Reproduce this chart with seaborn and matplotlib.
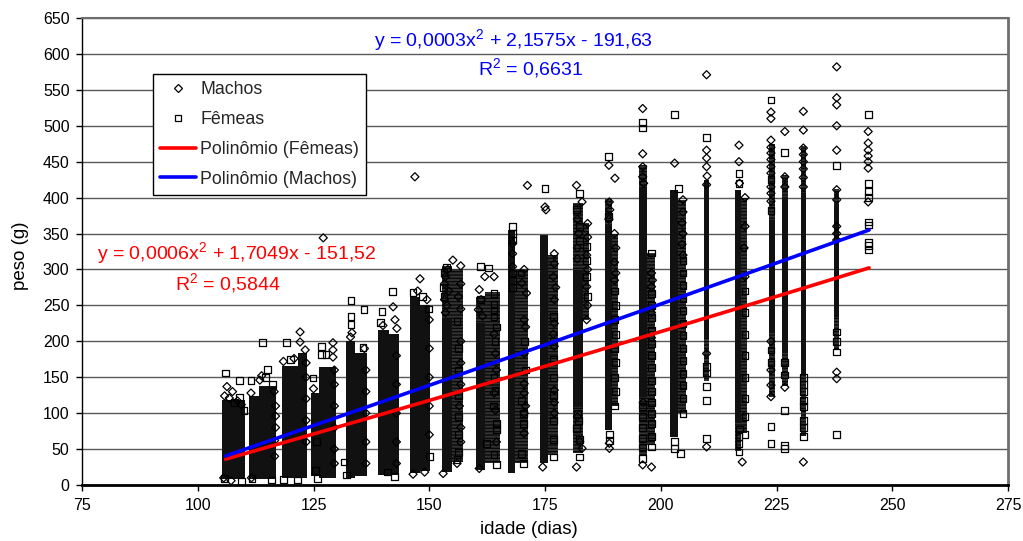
import numpy as np
import pandas as pd
import matplotlib
matplotlib.use("Agg")
import matplotlib.pyplot as plt
import seaborn as sns
from matplotlib.lines import Line2D

# Dense weighing clouds of each sampling week: day span and weight span (g)
nucleo_idade_ini = [105.3, 111.0, 113.2, 118.3, 121.7, 124.5, 126.1, 132.0, 133.9, 139.0,
                    141.2, 145.8, 148.1, 152.8, 160.2, 167.1, 173.9, 181.0, 188.0, 195.2,
                    202.0, 209.4, 216.0, 223.3, 226.1, 230.2, 237.4]
nucleo_idade_fim = [110.1, 113.2, 117.0, 121.7, 123.5, 126.1, 129.8, 133.9, 136.5, 141.2,
                    143.5, 148.1, 150.1, 155.0, 162.0, 168.6, 175.7, 183.2, 189.4, 197.0,
                    203.8, 210.4, 217.4, 224.6, 227.4, 231.4, 238.6]
nucleo_peso_min = [8, 8, 8, 10, 10, 12, 10, 10, 12, 14, 14, 17, 20, 18, 21, 17, 30, 109, 76,
                   123, 67, 205, 86, 212, 184, 155, 234]
nucleo_peso_max = [118, 124, 138, 166, 184, 128, 164, 200, 184, 216, 210, 262, 250, 232, 225,
                   355, 348, 299, 360, 415, 410, 425, 410, 369, 401, 406, 388]

# Looser stacks of weighings next to the dense clouds: day span and weight span (g)
pilha_idade_ini = [152.8, 155.0, 160.2, 162.0, 168.6, 175.7, 181.0, 181.0, 183.2, 189.4,
                   188.0, 197.0, 195.2, 195.2, 203.8, 209.4, 217.4, 216.0, 223.3, 223.3,
                   226.1, 226.1, 230.2, 230.2, 237.4, 237.4]
pilha_idade_fim = [155.0, 157.3, 162.0, 165.2, 171.3, 177.8, 183.2, 183.2, 184.6, 190.8,
                   189.4, 198.8, 197.0, 197.0, 205.5, 210.4, 218.6, 217.4, 224.6, 224.6,
                   227.4, 227.4, 231.4, 231.4, 238.6, 238.6]
pilha_peso_min = [232, 32, 225, 30, 30, 42, 299, 45, 230, 110, 360, 55, 415, 40, 100, 145, 72,
                  48, 369, 122, 401, 138, 406, 68, 388, 188]
pilha_peso_max = [305, 300, 262, 268, 300, 320, 392, 109, 364, 350, 398, 323, 445, 123, 397,
                  205, 400, 86, 475, 212, 432, 184, 472, 155, 412, 234]

# Individual weighings around the dense clouds: (idade em dias, peso em g)
machos = [
    (105.8, 124), (106.3, 137), (107.5, 130), (106.8, 121), (108.6, 117), (109.4, 112), (105.6, 10), (107.2, 6),
    (113.4, 146), (111.5, 128), (116.5, 130), (116.8, 110), (116.8, 96), (116.8, 80), (111.6, 10), (116.6, 62),
    (116.6, 40), (113.8, 152),
    (122.1, 213), (122.1, 199), (123.2, 188), (123.4, 170), (123.4, 150), (123.4, 120), (123.4, 90), (123.4, 60),
    (118.5, 172), (120.8, 176),
    (127.1, 344), (129.2, 198), (129.2, 188), (129.2, 178), (129.5, 160), (129.5, 140), (129.5, 110), (129.5, 80),
    (129.5, 50), (129.5, 30), (125.0, 134),
    (133.0, 206), (133.3, 212), (136.0, 190), (136.3, 160), (136.3, 130), (136.3, 100), (136.3, 60), (136.3, 30),
    (142.2, 248), (142.6, 230), (140.0, 222), (143.0, 218), (142.9, 180), (142.9, 140), (142.9, 100), (142.9, 60),
    (142.9, 30),
    (146.9, 429), (148.0, 287), (147.5, 270), (149.5, 258), (150.0, 230), (150.0, 190), (150.0, 150), (150.0, 110),
    (150.0, 70), (146.5, 15), (149.0, 18),
    (155.1, 313), (154.0, 300), (153.5, 290), (153.3, 280), (154.2, 270), (153.3, 258), (153.8, 250), (153.5, 240),
    (156.8, 305), (156.8, 280), (156.3, 262), (156.8, 245), (156.8, 200), (156.8, 170), (156.8, 140), (156.5, 110),
    (156.8, 80), (156.8, 60), (153.0, 16), (156.0, 30),
    (160.8, 272), (161.2, 258), (160.6, 244), (162.0, 290), (164.0, 290), (161.5, 235), (164.3, 183), (164.5, 160),
    (164.0, 128), (164.3, 104), (164.0, 210), (164.5, 60), (160.8, 23),
    (168.0, 336), (168.0, 322), (168.0, 304), (171.2, 417), (170.0, 281), (171.0, 267), (170.5, 230), (170.8, 220),
    (170.5, 183), (170.5, 141), (170.5, 128), (170.8, 110), (170.5, 100), (170.5, 72), (170.5, 300),
    (175.0, 387), (175.2, 383), (177.0, 322), (177.0, 308), (176.8, 290), (177.3, 275), (177.0, 258), (177.0, 225),
    (176.8, 210), (177.0, 193), (177.0, 132), (177.0, 115), (177.0, 100), (174.5, 25),
    (181.8, 417), (183.0, 394), (182.0, 370), (182.3, 350), (182.0, 330), (182.0, 315), (183.0, 51), (181.8, 25),
    (182.5, 60), (182.0, 95), (184.2, 364), (184.2, 345), (184.0, 320), (184.2, 300), (184.0, 276), (184.2, 250),
    (184.0, 230),
    (188.8, 445), (190.1, 427), (188.9, 394), (189.0, 383), (188.8, 370), (188.9, 58), (188.9, 51), (190.0, 350),
    (190.3, 330), (190.0, 310), (190.3, 295), (190.0, 285),
    (196.1, 524), (196.1, 461), (196.1, 443), (196.1, 429), (196.3, 420), (196.1, 28), (198.0, 25), (196.2, 115),
    (198.0, 295), (198.2, 285), (198.0, 276), (198.0, 240), (198.0, 205),
    (203.0, 448), (204.8, 397), (204.8, 380), (204.6, 365), (204.8, 350), (204.6, 335), (204.8, 320),
    (209.9, 571), (209.9, 466), (209.9, 455), (209.9, 443), (209.9, 183), (209.9, 53), (210.0, 430), (209.9, 418),
    (216.9, 473), (216.9, 450), (217.0, 420), (217.6, 32), (218.2, 400), (218.2, 360), (218.0, 330), (218.2, 290),
    (223.8, 519), (223.8, 510), (223.8, 480), (223.8, 470), (223.8, 462), (223.8, 453), (223.8, 443), (223.8, 434),
    (223.8, 415), (223.8, 406), (223.8, 395), (223.8, 200), (223.8, 160), (223.8, 139), (223.8, 123), (226.8, 492),
    (226.8, 429), (226.8, 415), (226.8, 136),
    (230.8, 520), (230.8, 494), (230.8, 469), (230.8, 460), (230.8, 450), (230.8, 440), (230.8, 428), (230.8, 415),
    (230.8, 32),
    (238.0, 582), (238.0, 539), (238.0, 529), (238.0, 500), (238.0, 466), (238.0, 411), (238.0, 397), (238.0, 157),
    (238.0, 148), (238.0, 360), (238.0, 350), (238.0, 341),
    (244.8, 492), (244.8, 476), (244.8, 466), (244.8, 458), (244.8, 450), (244.8, 441), (244.8, 394),
]

femeas = [
    (106.0, 156), (109.0, 146), (109.0, 122), (105.8, 9), (109.5, 5), (108.0, 115), (110.0, 104),
    (113.9, 198), (111.5, 146), (115.0, 161), (116.0, 7), (111.7, 9), (114.6, 150), (116.2, 140),
    (119.1, 198), (120.0, 175), (118.5, 8), (121.5, 7),
    (126.8, 193), (126.8, 182), (127.7, 182), (124.9, 149), (125.8, 9), (125.4, 20), (125.6, 60),
    (133.1, 257), (133.1, 235), (133.1, 223), (135.9, 244), (135.7, 191), (131.6, 32), (132.2, 14),
    (142.0, 269), (139.8, 242), (139.5, 226), (141.0, 18), (142.5, 12),
    (146.5, 268), (149.8, 245), (148.6, 262), (150.0, 40),
    (153.8, 303), (153.2, 296), (153.0, 275), (153.2, 262), (156.0, 228), (156.3, 190), (156.3, 160), (156.3, 125),
    (156.3, 95), (156.3, 70), (156.3, 45), (156.0, 35),
    (161.0, 304), (162.8, 302), (161.0, 258), (164.0, 267), (164.0, 251), (164.0, 243), (164.0, 235), (164.2, 132),
    (164.5, 86), (164.5, 77), (164.0, 42), (164.5, 28), (163.8, 110), (164.0, 150), (164.2, 200), (164.5, 220),
    (162.4, 58),
    (168.0, 360), (168.0, 350), (168.0, 341), (168.0, 295), (168.0, 285), (168.0, 275), (169.8, 295), (170.0, 118),
    (170.3, 100), (170.3, 86), (170.0, 44), (170.3, 30), (170.8, 160), (170.5, 200),
    (175.0, 413), (176.8, 235), (176.8, 200), (176.8, 175), (176.8, 150), (176.8, 125), (176.8, 90), (176.8, 63),
    (176.8, 39),
    (182.5, 406), (181.8, 383), (182.5, 360), (182.5, 340), (181.8, 79), (182.5, 63), (182.5, 39), (182.0, 100),
    (182.2, 90), (184.0, 332), (184.0, 313), (184.0, 290), (184.2, 262),
    (188.8, 457), (188.8, 374), (188.9, 62), (188.9, 70), (190.0, 270), (190.3, 250), (190.0, 230), (190.2, 210),
    (190.0, 190), (190.3, 170), (190.0, 150), (190.2, 130), (190.0, 110),
    (196.0, 505), (196.0, 497), (196.0, 109), (196.0, 95), (196.0, 80), (196.0, 65), (196.0, 53), (196.0, 37),
    (198.0, 86), (198.0, 323), (198.0, 267), (198.0, 250), (198.0, 233), (198.0, 215), (198.0, 197), (198.0, 180),
    (198.0, 163), (198.0, 146), (198.0, 130), (198.0, 115), (198.0, 100), (198.0, 67), (198.0, 53),
    (203.0, 516), (203.8, 413), (203.0, 51), (204.2, 44), (203.0, 60), (204.8, 313), (204.8, 295), (204.8, 278),
    (204.8, 260), (204.8, 243), (204.8, 225), (204.8, 208), (204.8, 190), (204.8, 173), (204.8, 155), (204.8, 138),
    (204.8, 120), (204.8, 100),
    (209.9, 484), (209.9, 165), (209.9, 156), (209.9, 137), (209.9, 118), (209.9, 65),
    (216.9, 434), (216.9, 420), (216.9, 67), (216.9, 58), (216.9, 46), (217.0, 78), (218.2, 270), (218.2, 240),
    (218.2, 210), (218.2, 180), (218.2, 150), (218.2, 120), (218.2, 95), (218.2, 70),
    (223.8, 536), (223.8, 425), (223.8, 382), (223.8, 81), (223.8, 58), (223.8, 188), (223.8, 170), (226.8, 463),
    (226.8, 171), (226.8, 153), (226.8, 104), (226.8, 55), (226.8, 51),
    (230.8, 150), (230.8, 140), (230.8, 130), (230.8, 118), (230.8, 109), (230.8, 90), (230.8, 80), (230.8, 67),
    (238.0, 445), (238.0, 213), (238.0, 200), (238.0, 185), (238.0, 70),
    (244.8, 516), (244.8, 420), (244.8, 408), (244.8, 400), (244.8, 366), (244.8, 362), (244.8, 338), (244.8, 333),
    (244.8, 327),
]

# Second-order trend lines: a*x^2 + b*x + c, with their R^2
coef_femeas = [0.0006, 1.7049, -151.52]
coef_machos = [0.0003, 2.1575, -191.63]
r2_femeas = "0,5844"
r2_machos = "0,6631"
idade_tendencia = list(range(106, 246))

x_ticks = list(range(75, 276, 25))
y_ticks = list(range(0, 651, 50))

# ---------------------------------------------------------------------------
sns.set_theme(style="white")
plt.rcParams["font.family"] = ["Liberation Sans", "DejaVu Sans"]
plt.rcParams["mathtext.fontset"] = "custom"
plt.rcParams["mathtext.rm"] = "Liberation Sans"
plt.rcParams["mathtext.it"] = "Liberation Sans"
plt.rcParams["hatch.linewidth"] = 1.0

fig = plt.figure(figsize=(10.23, 5.41), dpi=100)
ax = fig.add_axes([82 / 1023, 1 - 485 / 541, 926 / 1023, 467 / 541])
ax.set_xlim(75, 275)
ax.set_ylim(0, 650)

# horizontal gridlines
ax.set_axisbelow(True)
ax.yaxis.grid(True, color="#5a5a5a", linewidth=1.0)
ax.xaxis.grid(False)

# looser stacks of overlapping markers (textured), then dense clouds (solid)
larg_p = np.array(pilha_idade_fim) - np.array(pilha_idade_ini)
alt_p = np.array(pilha_peso_max) - np.array(pilha_peso_min)
ax.bar(pilha_idade_ini, alt_p, width=larg_p, bottom=pilha_peso_min, align="edge",
       color="#333333", edgecolor="#0a0a0a", hatch="-----", linewidth=0, zorder=2)

larg = np.array(nucleo_idade_fim) - np.array(nucleo_idade_ini)
alt = np.array(nucleo_peso_max) - np.array(nucleo_peso_min)
ax.bar(nucleo_idade_ini, alt, width=larg, bottom=nucleo_peso_min, align="edge",
       color="#111111", linewidth=0, zorder=2)

df_m = pd.DataFrame(machos, columns=["idade", "peso"])
df_f = pd.DataFrame(femeas, columns=["idade", "peso"])

sns.scatterplot(data=df_m, x="idade", y="peso", ax=ax, marker="D", s=17,
                color="black", facecolors="none", edgecolor="black",
                linewidth=0.9, legend=False, zorder=3)
ax.collections[-1].set_facecolor("none")
sns.scatterplot(data=df_f, x="idade", y="peso", ax=ax, marker="s", s=24,
                color="black", facecolors="none", edgecolor="black",
                linewidth=0.9, legend=False, zorder=3)
ax.collections[-1].set_facecolor("none")

xt = np.array(idade_tendencia, dtype=float)
sns.lineplot(x=xt, y=np.polyval(coef_femeas, xt), ax=ax, color="#ff0000",
             linewidth=2.6, zorder=4, legend=False)
sns.lineplot(x=xt, y=np.polyval(coef_machos, xt), ax=ax, color="#0000ff",
             linewidth=2.6, zorder=5, legend=False)

# equations
ax.text(168.3, 619, "y = 0,0003x$^{2}$ + 2,1575x - 191,63", color="#0000ff",
        fontsize=14, ha="center", va="center")
ax.text(171.8, 580, f"R$^{{2}}$ = {r2_machos}", color="#0000ff",
        fontsize=14, ha="center", va="center")
ax.text(108.3, 323, "y = 0,0006x$^{2}$ + 1,7049x - 151,52", color="#ff0000",
        fontsize=14, ha="center", va="center")
ax.text(106.5, 281, f"R$^{{2}}$ = {r2_femeas}", color="#ff0000",
        fontsize=14, ha="center", va="center")

# axes, ticks and labels
ax.set_xticks(x_ticks)
ax.set_yticks(y_ticks)
ax.tick_params(axis="both", which="major", direction="out", length=4, width=1,
               color="black", labelsize=11.5, labelcolor="black", pad=5,
               bottom=True, left=True)
ax.set_xlabel("idade (dias)", fontsize=13.5, color="black")
ax.set_ylabel("peso (g)", fontsize=13.5, color="black")
ax.xaxis.set_label_coords(0.483, -0.077)
ax.yaxis.set_label_coords(-0.057, 0.49)

for side in ["left", "bottom"]:
    ax.spines[side].set_color("black")
ax.spines["left"].set_linewidth(1.0)
ax.spines["bottom"].set_linewidth(2.0)
ax.spines["top"].set_color("#6e6e6e")
ax.spines["top"].set_linewidth(1.5)
ax.spines["right"].set_color("#6e6e6e")
ax.spines["right"].set_linewidth(2.0)

handles = [
    Line2D([], [], marker="D", linestyle="none", markerfacecolor="none",
           markeredgecolor="black", markersize=4.1, markeredgewidth=0.9),
    Line2D([], [], marker="s", linestyle="none", markerfacecolor="none",
           markeredgecolor="black", markersize=4.9, markeredgewidth=0.9),
    Line2D([], [], color="#ff0000", linewidth=2.6),
    Line2D([], [], color="#0000ff", linewidth=2.6),
]
labels = ["Machos", "Fêmeas", "Polinômio (Fêmeas)", "Polinômio (Machos)"]
leg = ax.legend(handles, labels, loc="upper left", bbox_to_anchor=(0.0767, 0.880),
                borderaxespad=0, fontsize=12.8, frameon=True, fancybox=False,
                edgecolor="black", framealpha=1, handlelength=2.0,
                handletextpad=0.25, labelspacing=0.72, borderpad=0.4)
leg.get_frame().set_linewidth(1.0)
leg.set_zorder(6)

fig.savefig("out.png", dpi=100, facecolor="white")
